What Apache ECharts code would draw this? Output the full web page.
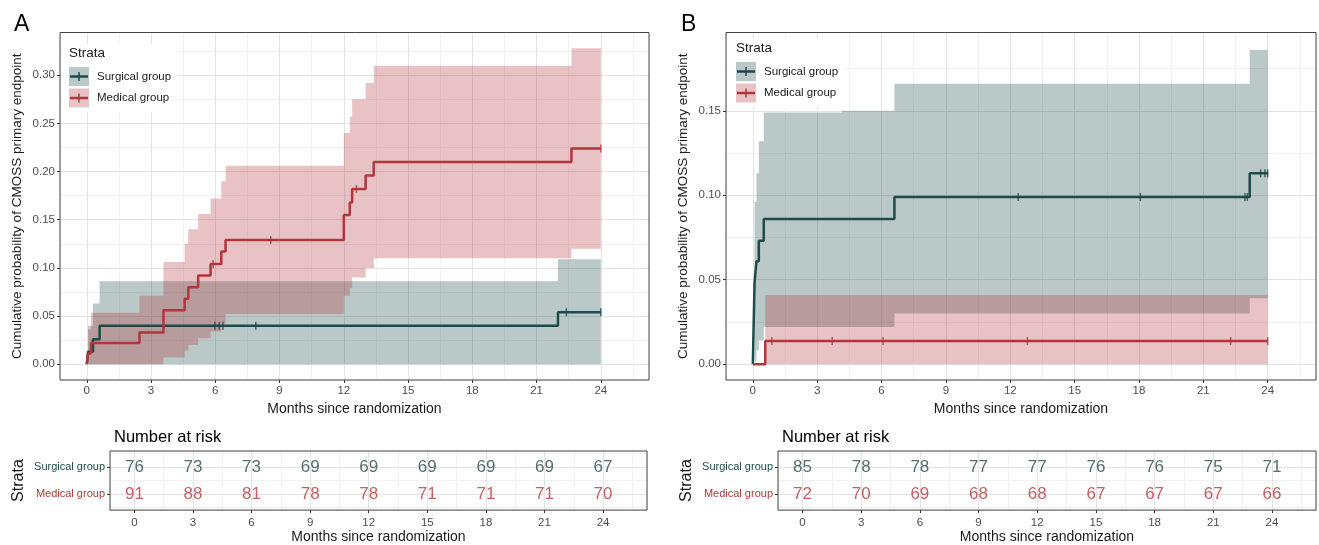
<!DOCTYPE html>
<html>
<head>
<meta charset="utf-8">
<title>CMOSS primary endpoint</title>
<script src="https://cdn.jsdelivr.net/npm/echarts@6/dist/echarts.min.js"></script>
<style>
    html, body { margin: 0; padding: 0; background: #fff; }
    #main { width: 1319px; height: 545px; }
</style>
</head>
<body>
<div id="main"></div>
<script>
// tick labels (months) on every x axis
var monthTicks = [0, 3, 6, 9, 12, 15, 18, 21, 24];
var strataNames = ['Surgical group', 'Medical group'];

// ---- Panel A ----  estimate: [month, cumulative probability]
var aSurgEst = [[0, 0], [0.06, 0.013], [0.29, 0.026], [0.6, 0.040], [22.0, 0.054], [24, 0.054]];
// confidence band: [month, lower, upper], held until the next month
var aSurgCI = [[0.06, 0, 0.040], [0.29, 0, 0.063], [0.6, 0, 0.086], [22.0, 0, 0.109], [24, 0, 0.109]];
var aSurgCensor = [[5.98, 0.040], [6.18, 0.040], [6.36, 0.040], [7.89, 0.040], [22.39, 0.054], [24, 0.054]];

var aMedEst = [[0, 0], [0.06, 0.011], [0.2, 0.022], [2.46, 0.033], [3.58, 0.056], [4.57, 0.068], [4.74, 0.080],
    [5.2, 0.092], [5.78, 0.104], [6.28, 0.117], [6.48, 0.129], [12.0, 0.155], [12.28, 0.168], [12.39, 0.182],
    [13.02, 0.196], [13.4, 0.210], [22.63, 0.224], [24, 0.224]];
var aMedCI = [[0.06, 0, 0.036], [0.2, 0, 0.0535], [2.46, 0, 0.071], [3.58, 0.007, 0.106], [4.57, 0.014, 0.125],
    [4.74, 0.020, 0.140], [5.2, 0.027, 0.156], [5.78, 0.034, 0.172], [6.28, 0.042, 0.190], [6.48, 0.052, 0.206],
    [12.0, 0.071, 0.240], [12.28, 0.079, 0.257], [12.39, 0.090, 0.275], [13.02, 0.100, 0.292], [13.4, 0.110, 0.310],
    [22.63, 0.120, 0.328], [24, 0.120, 0.328]];
var aMedCensor = [[5.9, 0.104], [8.59, 0.129], [12.59, 0.182], [24, 0.224]];

// ---- Panel B ----
var bSurgEst = [[0, 0], [0.08, 0.048], [0.17, 0.061], [0.28, 0.073], [0.51, 0.086], [6.6, 0.099], [23.16, 0.113], [24, 0.113]];
var bSurgCI = [[0.08, 0.0015, 0.096], [0.17, 0.008, 0.113], [0.28, 0.014, 0.132], [0.51, 0.022, 0.149],
    [4.15, 0.022, 0.150], [6.6, 0.030, 0.166], [23.16, 0.039, 0.186], [24, 0.039, 0.186]];
var bSurgCensor = [[12.37, 0.099], [18.06, 0.099], [22.94, 0.099], [23.05, 0.099], [23.67, 0.113], [23.87, 0.113], [24, 0.113]];

var bMedEst = [[0, 0], [0.58, 0.0137], [24, 0.0137]];
var bMedCI = [[0.58, 0, 0.041], [24, 0, 0.041]];
var bMedCensor = [[0.89, 0.0137], [3.7, 0.0137], [6.07, 0.0137], [12.8, 0.0137], [22.27, 0.0137], [24, 0.0137]];

// ---- number at risk (at monthTicks) ----
var aRiskSurg = [76, 73, 73, 69, 69, 69, 69, 69, 67];
var aRiskMed = [91, 88, 81, 78, 78, 71, 71, 71, 70];
var bRiskSurg = [85, 78, 78, 77, 77, 76, 76, 75, 71];
var bRiskMed = [72, 70, 69, 68, 68, 67, 67, 67, 66];

(function() {
    var myChart = echarts.init(document.getElementById('main'));

    var FONT = "'Liberation Sans', Arial, sans-serif";
    var colSurg = '#1f4a4a';
    var colMed = '#b2363b';
    var fillSurg = 'rgba(31,74,74,0.3)';
    var fillMed = 'rgba(178,54,59,0.3)';
    var majorGrid = '#e3e3e3';
    var minorGrid = '#f1f1f1';
    var xMin = -1.25, xMax = 26.25;

    function isMonthTick(v) {
        return monthTicks.indexOf(Math.round(v * 1000) / 1000) >= 0;
    }

    // major x axis: labels, ticks, major grid
    function xMajor(g, nameGap, labelMargin) {
        return {
            type: 'value', gridIndex: g, min: xMin, max: xMax,
            minInterval: 3, maxInterval: 3, z: 1,
            axisLine: { show: false, onZero: false },
            axisTick: { show: true, length: 3, customValues: monthTicks, lineStyle: { color: '#333' } },
            axisLabel: {
                customValues: monthTicks, margin: labelMargin, color: '#4d4d4d',
                fontSize: 11.5, fontFamily: FONT,
                formatter: function(v) { return isMonthTick(v) ? String(v) : ''; }
            },
            splitLine: { show: true, lineStyle: { color: majorGrid, width: 1 } },
            name: 'Months since randomization', nameLocation: 'middle', nameGap: nameGap,
            nameTextStyle: { fontSize: 14, color: '#1a1a1a', fontFamily: FONT }
        };
    }
    // minor axis: only the light grid lines between the major ones
    function minorAxis(g, min, max, step) {
        return {
            type: 'value', gridIndex: g, min: min, max: max,
            minInterval: step, maxInterval: step, z: 0,
            axisLine: { show: false, onZero: false }, axisTick: { show: false }, axisLabel: { show: false },
            splitLine: { show: true, lineStyle: { color: minorGrid, width: 1 } }
        };
    }
    function yMajor(g, min, max, ticks) {
        return {
            type: 'value', gridIndex: g, min: min, max: max,
            minInterval: 0.05, maxInterval: 0.05, z: 1,
            axisLine: { show: false, onZero: false },
            axisTick: { show: true, length: 3, customValues: ticks, lineStyle: { color: '#333' } },
            axisLabel: {
                customValues: ticks, margin: 5, color: '#4d4d4d', fontSize: 11.5, fontFamily: FONT,
                formatter: function(v) {
                    return Math.abs(v * 20 - Math.round(v * 20)) < 1e-6 ? v.toFixed(2) : '';
                }
            },
            splitLine: { show: true, lineStyle: { color: majorGrid, width: 1 } },
            name: 'Cumulative probability of CMOSS primary endpoint',
            nameLocation: 'middle', nameGap: 36, nameRotate: 90,
            nameTextStyle: { fontSize: 13.5, color: '#1a1a1a', fontFamily: FONT }
        };
    }
    // risk table rows: 2 = surgical, 1 = medical
    function yTable(g) {
        return {
            type: 'value', gridIndex: g, min: 0.4, max: 2.6,
            minInterval: 1, maxInterval: 1, z: 1,
            axisLine: { show: false, onZero: false },
            axisTick: { show: true, length: 3, customValues: [1, 2], lineStyle: { color: '#333' } },
            axisLabel: {
                customValues: [1, 2], margin: 5, fontSize: 11, fontFamily: FONT,
                formatter: function(v) {
                    if (v === 2) return '{s|' + strataNames[0] + '}';
                    if (v === 1) return '{m|' + strataNames[1] + '}';
                    return '';
                },
                rich: {
                    s: { color: colSurg, fontSize: 11, fontFamily: FONT },
                    m: { color: colMed, fontSize: 11, fontFamily: FONT }
                }
            },
            splitLine: { show: true, lineStyle: { color: majorGrid, width: 1 } },
            name: 'Strata', nameLocation: 'middle', nameGap: 83, nameRotate: 90,
            nameTextStyle: { fontSize: 16, color: '#1a1a1a', fontFamily: FONT }
        };
    }

    // step-shaped confidence band, one polygon per stratum
    function bandSeries(band, fill, axisIdx) {
        return {
            type: 'custom', xAxisIndex: axisIdx, yAxisIndex: axisIdx, silent: true, z: 1,
            data: band, encode: { x: 0, y: [1, 2] },
            renderItem: function(params, api) {
                if (params.dataIndex !== 0) return null;
                var top = [], bot = [];
                for (var i = 0; i < band.length - 1; i++) {
                    var t0 = band[i][0], t1 = band[i + 1][0];
                    top.push(api.coord([t0, band[i][2]]), api.coord([t1, band[i][2]]));
                    bot.push(api.coord([t0, band[i][1]]), api.coord([t1, band[i][1]]));
                }
                return { type: 'polygon', shape: { points: top.concat(bot.reverse()) }, style: { fill: fill } };
            }
        };
    }
    function stepSeries(data, color, axisIdx) {
        return {
            type: 'line', xAxisIndex: axisIdx, yAxisIndex: axisIdx, step: 'end', data: data,
            showSymbol: false, silent: true, z: 3,
            lineStyle: { color: color, width: 2.5 }
        };
    }
    function censorSeries(data, color, axisIdx) {
        return {
            type: 'scatter', xAxisIndex: axisIdx, yAxisIndex: axisIdx, data: data,
            symbol: 'rect', symbolSize: [1.5, 8], silent: true, z: 4,
            itemStyle: { color: color }
        };
    }
    function riskSeries(values, row, color, axisIdx) {
        var data = [];
        for (var i = 0; i < monthTicks.length; i++) data.push([monthTicks[i], row, values[i]]);
        return {
            type: 'scatter', xAxisIndex: axisIdx, yAxisIndex: axisIdx, data: data,
            symbolSize: 1, silent: true, z: 4, itemStyle: { color: 'rgba(0,0,0,0)' },
            label: {
                show: true, position: 'inside', fontSize: 17, fontFamily: FONT, color: color,
                formatter: function(p) { return String(p.value[2]); }
            }
        };
    }

    // legend drawn as graphic: box + key + label
    function legendGraphic(x, yTitle, yKey) {
        var items = [
            { type: 'rect', shape: { x: x - 7, y: yTitle - 9, width: 115, height: 68 }, style: { fill: '#fff' }, z: 5 },
            { type: 'text', x: x, y: yTitle, style: { text: 'Strata', fontSize: 13.5, fontFamily: FONT, fill: '#1a1a1a', textVerticalAlign: 'middle' }, z: 6 }
        ];
        var cols = [colSurg, colMed], fills = [fillSurg, fillMed];
        for (var i = 0; i < 2; i++) {
            var y0 = yKey + i * 21.5, cy = y0 + 9.5;
            items.push({ type: 'rect', shape: { x: x, y: y0, width: 20, height: 19 }, style: { fill: fills[i] }, z: 6 });
            items.push({ type: 'line', shape: { x1: x + 1, y1: cy, x2: x + 19, y2: cy }, style: { stroke: cols[i], lineWidth: 2.5 }, z: 7 });
            items.push({ type: 'line', shape: { x1: x + 10, y1: cy - 4.5, x2: x + 10, y2: cy + 4.5 }, style: { stroke: cols[i], lineWidth: 1.5 }, z: 7 });
            items.push({ type: 'text', x: x + 28, y: cy, style: { text: strataNames[i], fontSize: 11.5, fontFamily: FONT, fill: '#1a1a1a', textVerticalAlign: 'middle' }, z: 7 });
        }
        return items;
    }

    // panel frame drawn on top of the grid lines
    function frame(left, top, width, height) {
        return {
            left: left, top: top, width: width, height: height, show: true, z: 10,
            backgroundColor: 'rgba(0,0,0,0)', borderColor: '#444', borderWidth: 1
        };
    }

    var option = {
        animation: false,
        backgroundColor: '#fff',
        title: [
            { text: 'A', left: 9, top: 8, textStyle: { fontSize: 23, fontWeight: 'normal', color: '#000', fontFamily: FONT } },
            { text: 'B', left: 676, top: 8, textStyle: { fontSize: 23, fontWeight: 'normal', color: '#000', fontFamily: FONT } },
            { text: 'Number at risk', left: 109, top: 424, textStyle: { fontSize: 16.5, fontWeight: 'normal', color: '#000', fontFamily: FONT } },
            { text: 'Number at risk', left: 777, top: 424, textStyle: { fontSize: 16.5, fontWeight: 'normal', color: '#000', fontFamily: FONT } }
        ],
        grid: [
            frame(60, 32.5, 589, 347.5),
            frame(726, 32.5, 590, 347.5),
            frame(110, 451, 537, 60),
            frame(778, 451, 538, 60)
        ],
        // axis index 0/2 = panel plots, 4/6 = risk tables; odd = minor grid helpers
        xAxis: [
            xMajor(0, 20, 5), minorAxis(0, xMin, xMax, 1.5),
            xMajor(1, 20, 5), minorAxis(1, xMin, xMax, 1.5),
            xMajor(2, 19, 7), minorAxis(2, xMin, xMax, 1.5),
            xMajor(3, 19, 7), minorAxis(3, xMin, xMax, 1.5)
        ],
        yAxis: [
            yMajor(0, -0.0164, 0.3444, [0, 0.05, 0.1, 0.15, 0.2, 0.25, 0.3]), minorAxis(0, -0.0164, 0.3444, 0.025),
            yMajor(1, -0.0094, 0.1964, [0, 0.05, 0.1, 0.15]), minorAxis(1, -0.0094, 0.1964, 0.025),
            yTable(2), minorAxis(2, 0.4, 2.6, 0.5),
            yTable(3), minorAxis(3, 0.4, 2.6, 0.5)
        ],
        graphic: legendGraphic(69, 53, 67).concat(legendGraphic(736, 48, 62)),
        series: [
            bandSeries(aSurgCI, fillSurg, 0),
            bandSeries(aMedCI, fillMed, 0),
            stepSeries(aSurgEst, colSurg, 0),
            stepSeries(aMedEst, colMed, 0),
            censorSeries(aSurgCensor, colSurg, 0),
            censorSeries(aMedCensor, colMed, 0),

            bandSeries(bSurgCI, fillSurg, 2),
            bandSeries(bMedCI, fillMed, 2),
            stepSeries(bSurgEst, colSurg, 2),
            stepSeries(bMedEst, colMed, 2),
            censorSeries(bSurgCensor, colSurg, 2),
            censorSeries(bMedCensor, colMed, 2),

            riskSeries(aRiskSurg, 2, '#2c4a4a', 4),
            riskSeries(aRiskMed, 1, '#b4383d', 4),
            riskSeries(bRiskSurg, 2, '#2c4a4a', 6),
            riskSeries(bRiskMed, 1, '#b4383d', 6)
        ]
    };

    myChart.setOption(option);

    window.addEventListener('resize', function() {
        myChart.resize();
    });
})();
</script>
</body>
</html>
